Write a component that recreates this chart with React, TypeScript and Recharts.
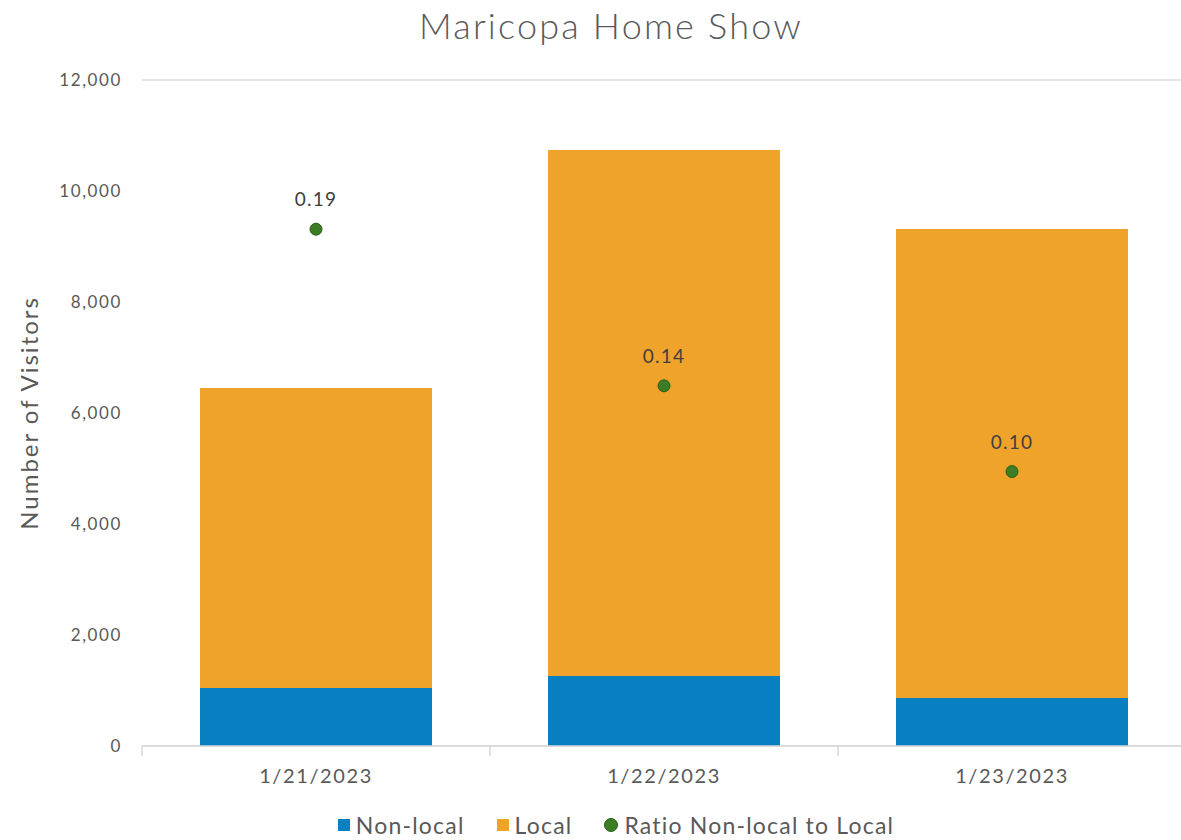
import React from 'react';
import { ComposedChart, Bar, Line, XAxis, YAxis, CartesianGrid, LabelList, Label } from 'recharts';

const dates = ['1/21/2023', '1/22/2023', '1/23/2023'];
const nonLocal = [1045, 1261, 865];
const local = [5405, 9478, 8450];
const ratio = [0.194, 0.1352, 0.103];
const yTicks = [0, 2000, 4000, 6000, 8000, 10000, 12000];

const chartData = dates.map((d, i) => ({
  date: d,
  nonLocal: nonLocal[i],
  local: local[i],
  ratio: ratio[i],
}));

const FONT = 'Lato, "Open Sans", sans-serif';
const GREY = '#595959';
const GRID = '#d9d9d9';
const BLUE = '#087fc1';
const ORANGE = '#f0a32b';
const GREEN = '#3b7d23';

// draws the label at the band centre plus tick marks on the band edges
function DateTick(props: any) {
  const { x, y, payload, index, visibleTicksCount } = props;
  const half = payload.offset || 174;
  return (
    <g>
      <line x1={x - half} y1={y - 8} x2={x - half} y2={y + 2} stroke={GRID} strokeWidth={1.5} />
      {index === visibleTicksCount - 1 && (
        <line x1={x + half} y1={y - 8} x2={x + half} y2={y + 2} stroke={GRID} strokeWidth={1.5} />
      )}
      <text
        x={x}
        y={y + 29}
        textAnchor="middle"
        fill={GREY}
        fontSize={20}
        letterSpacing={1.6}
        fontFamily={FONT}
      >
        {payload.value}
      </text>
    </g>
  );
}

function LegendItem({ color, round, text }: { color: string; round?: boolean; text: string }) {
  return (
    <span style={{ display: 'inline-flex', alignItems: 'center' }}>
      <span
        style={{
          width: 12,
          height: 12,
          background: color,
          borderRadius: round ? '50%' : 0,
          border: round ? '1px solid #2b5f19' : 'none',
          marginRight: 6,
          display: 'inline-block',
        }}
      />
      <span>{text}</span>
    </span>
  );
}

export default function App() {
  return (
    <div
      style={{
        position: 'absolute',
        left: 0,
        top: 0,
        width: 1181,
        height: 840,
        overflow: 'hidden',
        background: '#fff',
        fontFamily: FONT,
      }}
    >
      <div
        style={{
          position: 'absolute',
          top: 3,
          left: 0,
          width: 1222,
          textAlign: 'center',
          fontSize: 36,
          fontWeight: 300,
          letterSpacing: 2.2,
          color: GREY,
        }}
      >
        Maricopa Home Show
      </div>
      <ComposedChart
        width={1200}
        height={840}
        data={chartData}
        margin={{ top: 80, right: 14, bottom: 54, left: 62 }}
      >
        <CartesianGrid horizontal vertical={false} stroke={GRID} strokeWidth={1.5} />
        <XAxis
          dataKey="date"
          height={40}
          axisLine={{ stroke: GRID, strokeWidth: 1.5 }}
          tickLine={false}
          tick={<DateTick />}
          interval={0}
        />
        <YAxis
          yAxisId="count"
          width={80}
          domain={[0, 12000]}
          ticks={yTicks}
          axisLine={false}
          tickLine={false}
          tickSize={0}
          tickMargin={20}
          tickFormatter={(v: number) => v.toLocaleString('en-US')}
          tick={{ fill: GREY, fontSize: 17, fontFamily: FONT, letterSpacing: 1.6 }}
        >
          <Label
            value="Number of Visitors"
            angle={-90}
            position="insideLeft"
            offset={-33}
            style={{ fill: GREY, fontSize: 24, fontFamily: FONT, textAnchor: 'middle', letterSpacing: 2 }}
          />
        </YAxis>
        <YAxis yAxisId="ratio" orientation="right" hide domain={[0, 0.25]} />
        <Bar yAxisId="count" dataKey="nonLocal" stackId="v" fill={BLUE} barSize={232} isAnimationActive={false} />
        <Bar yAxisId="count" dataKey="local" stackId="v" fill={ORANGE} barSize={232} isAnimationActive={false} />
        <Line
          yAxisId="ratio"
          dataKey="ratio"
          stroke="none"
          dot={{ r: 6, fill: GREEN, stroke: '#2b5f19', strokeWidth: 1 }}
          activeDot={false}
          isAnimationActive={false}
        >
          <LabelList
            dataKey="ratio"
            position="top"
            offset={23}
            formatter={(v: number) => v.toFixed(2)}
            style={{ fill: '#404040', fontSize: 19, fontFamily: FONT, letterSpacing: 1.2 }}
          />
        </Line>
      </ComposedChart>
      <div
        style={{
          position: 'absolute',
          top: 811,
          left: 0,
          width: 1232,
          fontSize: 23,
          letterSpacing: 1.2,
          color: GREY,
          display: 'flex',
          justifyContent: 'center',
          gap: 32,
        }}
      >
        <LegendItem color={BLUE} text="Non-local" />
        <LegendItem color={ORANGE} text="Local" />
        <LegendItem color={GREEN} round text="Ratio Non-local to Local" />
      </div>
    </div>
  );
}
